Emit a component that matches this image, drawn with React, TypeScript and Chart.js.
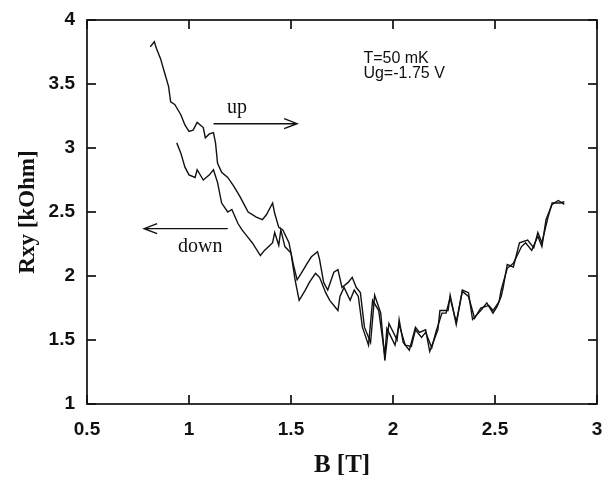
import React, { useEffect, useRef } from "react";
import { Chart, registerables } from "chart.js";

Chart.register(...registerables);

// ---- data (B in tesla, Rxy in kOhm) ----
const upB = [
  0.81, 0.83, 0.84, 0.86, 0.88, 0.9, 0.91, 0.93, 0.96, 0.98,
  1.0, 1.02, 1.04, 1.07, 1.08, 1.1, 1.12, 1.13, 1.14, 1.16,
  1.19, 1.22, 1.25, 1.27, 1.29, 1.33, 1.36, 1.38, 1.41, 1.42,
  1.44, 1.46, 1.49, 1.51, 1.53, 1.55, 1.58, 1.6, 1.63, 1.64,
  1.66, 1.68, 1.71, 1.73, 1.75, 1.78, 1.8, 1.82, 1.84, 1.86,
  1.89, 1.91, 1.94, 1.96, 1.98, 2.02, 2.03, 2.05, 2.08, 2.11,
  2.13, 2.16, 2.18, 2.22, 2.23, 2.27, 2.28, 2.31, 2.34, 2.37,
  2.39, 2.43, 2.46, 2.49, 2.51, 2.53, 2.54, 2.56, 2.59, 2.62,
  2.66, 2.69, 2.71, 2.73, 2.76, 2.78, 2.82, 2.84,
];
const upR = [
  3.79, 3.83, 3.78, 3.7, 3.59, 3.48, 3.36, 3.34, 3.26, 3.18,
  3.13, 3.14, 3.2, 3.16, 3.08, 3.11, 3.12, 3.04, 2.88, 2.81,
  2.77, 2.7, 2.62, 2.56, 2.5, 2.46, 2.44, 2.48, 2.57, 2.49,
  2.38, 2.36, 2.26, 2.1, 1.97, 2.02, 2.1, 2.15, 2.19, 2.13,
  1.95, 1.89, 2.03, 2.05, 1.91, 1.95, 1.99, 1.91, 1.87, 1.6,
  1.48, 1.85, 1.71, 1.34, 1.63, 1.5, 1.66, 1.48, 1.42, 1.6,
  1.56, 1.58, 1.41, 1.58, 1.73, 1.73, 1.85, 1.62, 1.89, 1.87,
  1.66, 1.73, 1.79, 1.71, 1.76, 1.84, 1.91, 2.09, 2.07, 2.26,
  2.28, 2.22, 2.34, 2.26, 2.46, 2.57, 2.57, 2.58,
];
const downB = [
  0.94, 0.96, 0.98, 1.0, 1.03, 1.04, 1.07, 1.1, 1.12, 1.14,
  1.16, 1.19, 1.21, 1.24, 1.26, 1.29, 1.31, 1.35, 1.37, 1.41,
  1.42, 1.44, 1.45, 1.47, 1.5, 1.52, 1.54, 1.57, 1.59, 1.62,
  1.64, 1.67, 1.69, 1.73, 1.74, 1.76, 1.79, 1.81, 1.83, 1.85,
  1.88, 1.9, 1.93, 1.96, 1.97, 2.01, 2.03, 2.06, 2.09, 2.11,
  2.14, 2.16, 2.19, 2.21, 2.24, 2.26, 2.28, 2.31, 2.34, 2.37,
  2.4, 2.43, 2.47, 2.49, 2.52, 2.53, 2.56, 2.59, 2.63, 2.65,
  2.68, 2.71, 2.73, 2.75, 2.78, 2.81, 2.84,
];
const downR = [
  3.04, 2.96, 2.85, 2.79, 2.77, 2.83, 2.75, 2.79, 2.83, 2.73,
  2.57, 2.5, 2.52, 2.41, 2.36, 2.3, 2.26, 2.16, 2.2, 2.26,
  2.34, 2.24, 2.36, 2.23, 2.18, 1.97, 1.81, 1.89, 1.95, 2.02,
  1.99, 1.87, 1.81, 1.73, 1.84, 1.91, 1.81, 1.89, 1.84, 1.6,
  1.46, 1.81, 1.73, 1.38, 1.59, 1.46, 1.62, 1.46, 1.45, 1.58,
  1.52, 1.56, 1.44, 1.56, 1.71, 1.71, 1.83, 1.64, 1.88, 1.84,
  1.67, 1.75, 1.77, 1.73, 1.8, 1.89, 2.06, 2.1, 2.23, 2.26,
  2.2, 2.31, 2.23, 2.44, 2.56, 2.59, 2.56,
];

const xTicks = [0.5, 1, 1.5, 2, 2.5, 3];
const yTicks = [1, 1.5, 2, 2.5, 3, 3.5, 4];

// annotation anchors in data units
const upArrow = { from: 1.12, to: 1.53, r: 3.19, label: "up", labelB: 1.235, labelR: 3.27 };
const downArrow = { from: 1.19, to: 0.78, r: 2.37, label: "down", labelB: 1.055, labelR: 2.19 };
const infoLines = ["T=50 mK", "Ug=-1.75 V"];
const infoB = 1.855;
const infoR = [3.695, 3.578];

const INK = "#111";

const framePlugin = {
  id: "frameAndNotes",
  afterDraw(chart: any) {
    const ctx = chart.ctx as CanvasRenderingContext2D;
    const { left, right, top, bottom } = chart.chartArea;
    const xs = chart.scales.x;
    const ys = chart.scales.y;
    ctx.save();
    ctx.strokeStyle = INK;
    ctx.fillStyle = INK;
    ctx.lineWidth = 1.7;
    ctx.strokeRect(left, top, right - left, bottom - top);

    // inward tick marks on all four sides
    const L = 9;
    const W = 1.7;
    xTicks.forEach((v) => {
      const px = xs.getPixelForValue(v);
      ctx.fillRect(px - W / 2, bottom - L, W, L);
      ctx.fillRect(px - W / 2, top, W, L);
    });
    yTicks.forEach((v) => {
      const py = ys.getPixelForValue(v);
      ctx.fillRect(left, py - W / 2, L, W);
      ctx.fillRect(right - L, py - W / 2, L, W);
    });

    const drawArrow = (a: any) => {
      const x0 = xs.getPixelForValue(a.from);
      const x1 = xs.getPixelForValue(a.to);
      const y = ys.getPixelForValue(a.r);
      const dir = Math.sign(x1 - x0);
      ctx.lineWidth = 1.4;
      ctx.beginPath();
      ctx.moveTo(x0, y);
      ctx.lineTo(x1, y);
      ctx.moveTo(x1 - dir * 13, y - 5);
      ctx.lineTo(x1, y);
      ctx.lineTo(x1 - dir * 13, y + 5);
      ctx.stroke();
      ctx.font = '20px "Liberation Serif", "DejaVu Serif", serif';
      ctx.textAlign = "center";
      ctx.textBaseline = "alphabetic";
      ctx.fillText(a.label, xs.getPixelForValue(a.labelB), ys.getPixelForValue(a.labelR));
    };
    drawArrow(upArrow);
    drawArrow(downArrow);

    ctx.font = '16px "Liberation Sans", Arial, sans-serif';
    ctx.textAlign = "left";
    ctx.textBaseline = "middle";
    infoLines.forEach((t, i) => {
      ctx.fillText(t, xs.getPixelForValue(infoB), ys.getPixelForValue(infoR[i]));
    });
    ctx.restore();
  },
};

export default function App() {
  const ref = useRef<HTMLCanvasElement | null>(null);
  useEffect(() => {
    document.body.style.margin = "0";
    document.body.style.background = "#fff";
    const chart = new Chart(ref.current!, {
      type: "line",
      data: {
        datasets: [
          {
            label: "up",
            data: upB.map((b, i) => ({ x: b, y: upR[i] })),
            borderColor: INK,
            borderWidth: 1.4,
            pointRadius: 0,
            tension: 0,
            fill: false,
          },
          {
            label: "down",
            data: downB.map((b, i) => ({ x: b, y: downR[i] })),
            borderColor: INK,
            borderWidth: 1.4,
            pointRadius: 0,
            tension: 0,
            fill: false,
          },
        ],
      },
      options: {
        responsive: false,
        animation: false,
        layout: { padding: { left: 0, right: 16, top: 20, bottom: 0 } },
        plugins: {
          legend: { display: false },
          tooltip: { enabled: false },
        },
        scales: {
          x: {
            type: "linear",
            min: 0.5,
            max: 3,
            afterFit: (s: any) => {
              s.height = 77;
            },
            grid: { display: false },
            border: { display: false },
            ticks: {
              stepSize: 0.5,
              autoSkip: false,
              maxRotation: 0,
              padding: 6,
              color: INK,
              callback: (v: any) => String(v),
              font: { family: '"Liberation Sans", Arial, sans-serif', size: 19, weight: "bold" },
            },
            title: {
              display: true,
              text: "B [T]",
              color: INK,
              font: { family: '"Liberation Serif", "DejaVu Serif", serif', size: 25, weight: "bold" },
              padding: { top: 0, bottom: 0 },
            },
          },
          y: {
            type: "linear",
            min: 1,
            max: 4,
            afterFit: (s: any) => {
              s.width = 87;
            },
            grid: { display: false },
            border: { display: false },
            ticks: {
              stepSize: 0.5,
              autoSkip: false,
              padding: 4,
              color: INK,
              callback: (v: any) => String(v),
              font: { family: '"Liberation Sans", Arial, sans-serif', size: 19, weight: "bold" },
            },
            title: {
              display: true,
              text: "Rxy [kOhm]",
              color: INK,
              font: { family: '"Liberation Serif", "DejaVu Serif", serif', size: 23, weight: "bold" },
              padding: { top: 14, bottom: 0 },
            },
          },
        },
      },
      plugins: [framePlugin],
    } as any);
    return () => chart.destroy();
  }, []);
  return <canvas ref={ref} width={613} height={481} style={{ display: "block" }} />;
}
